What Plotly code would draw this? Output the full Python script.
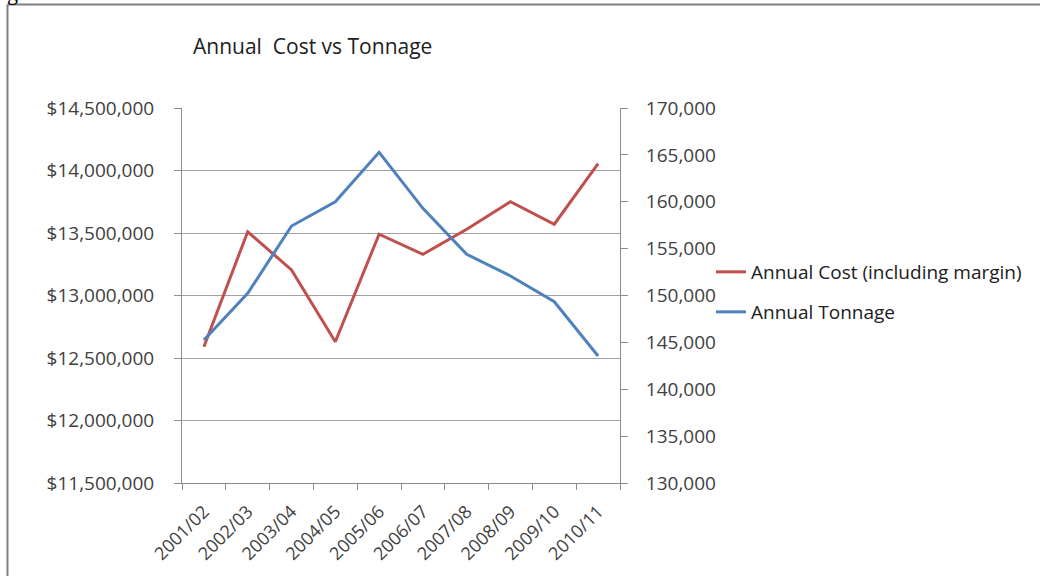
import plotly.graph_objects as go

years = ["2001/02", "2002/03", "2003/04", "2004/05", "2005/06",
         "2006/07", "2007/08", "2008/09", "2009/10", "2010/11"]
annual_cost = [12590000, 13510000, 13205000, 12630000, 13490000,
               13330000, 13530000, 13750000, 13570000, 14055000]
annual_tonnage = [145250, 150230, 157410, 160000, 165270,
                  159300, 154400, 152080, 149340, 143550]

W, H = 1040, 576
L, R, T, B = 182, 620, 108, 483  # plot area in pixels


def px(x):
    return (x - L) / (R - L)


def py(y):
    return (B - y) / (B - T)


FONT = "Open Sans"
TXT = "#404040"
RED = "#C0504D"
BLUE = "#4F81BD"
AXIS = "#8c8c8c"
GRID = "#a0a0a0"
FS = 19

fig = go.Figure()
fig.add_trace(go.Scatter(x=years, y=annual_cost, mode="lines",
                         name="Annual Cost (including margin)",
                         line=dict(color=RED, width=3), yaxis="y",
                         legend="legend"))
fig.add_trace(go.Scatter(x=years, y=annual_tonnage, mode="lines",
                         name="Annual Tonnage",
                         line=dict(color=BLUE, width=3), yaxis="y2",
                         legend="legend2"))

fig.update_layout(
    width=W, height=H,
    margin=dict(l=L, r=W - R, t=T, b=H - B, pad=0, autoexpand=False),
    paper_bgcolor="white", plot_bgcolor="white",
    font=dict(family=FONT, size=FS, color=TXT),
    title=dict(text="Annual  Cost vs Tonnage", x=193 / W, xanchor="left",
               xref="container", yref="container", y=1 - 47 / H,
               yanchor="middle", font=dict(family=FONT, size=21, color="#202020")),
    xaxis=dict(type="category", tickson="boundaries", ticks="outside",
               ticklen=6, tickcolor=AXIS, showline=True, linecolor=AXIS,
               linewidth=1, showgrid=False, tickangle=-45, automargin=False,
               range=[-0.5, 9.5], ticklabelstandoff=10,
               tickfont=dict(size=18, color=TXT)),
    yaxis=dict(range=[11500000, 14500000], dtick=500000, tickprefix="$",
               tickformat=",", ticks="outside", ticklen=7, tickcolor=AXIS,
               showline=True, linecolor=AXIS, linewidth=1, showgrid=True,
               gridcolor=GRID, gridwidth=1, zeroline=False, automargin=False,
               ticklabelstandoff=16, tickfont=dict(size=FS, color=TXT)),
    yaxis2=dict(range=[130000, 170000], dtick=5000, tickformat=",",
                overlaying="y", side="right", ticks="outside", ticklen=7,
                tickcolor=AXIS, showline=True, linecolor=AXIS, linewidth=1,
                showgrid=False, zeroline=False, ticklabelstandoff=14,
                automargin=False, tickfont=dict(size=FS, color=TXT)),
    legend=dict(x=px(711), y=py(272), xanchor="left", yanchor="middle",
                bgcolor="rgba(0,0,0,0)", borderwidth=0,
                font=dict(size=FS, color="#202020")),
    legend2=dict(x=px(711), y=py(312), xanchor="left", yanchor="middle",
                 bgcolor="rgba(0,0,0,0)", borderwidth=0,
                 font=dict(size=FS, color="#202020")),
    showlegend=True,
)

# outer frame of the embedded chart (left and top edges)
fig.add_shape(type="line", xref="paper", yref="paper",
              x0=px(7.5), x1=px(W + 5), y0=py(4.5), y1=py(4.5),
              line=dict(color="#7f7f7f", width=2))
fig.add_shape(type="line", xref="paper", yref="paper",
              x0=px(7.5), x1=px(7.5), y0=py(4.5), y1=py(H + 5),
              line=dict(color="#7f7f7f", width=2))

# cropped fragment of a caption letter above the chart
fig.add_annotation(text="g", xref="paper", yref="paper", x=px(12), y=py(-8),
                   xanchor="center", yanchor="middle", showarrow=False,
                   font=dict(family="Liberation Serif", size=22, color="#000000"))

fig.write_html("out.html")
